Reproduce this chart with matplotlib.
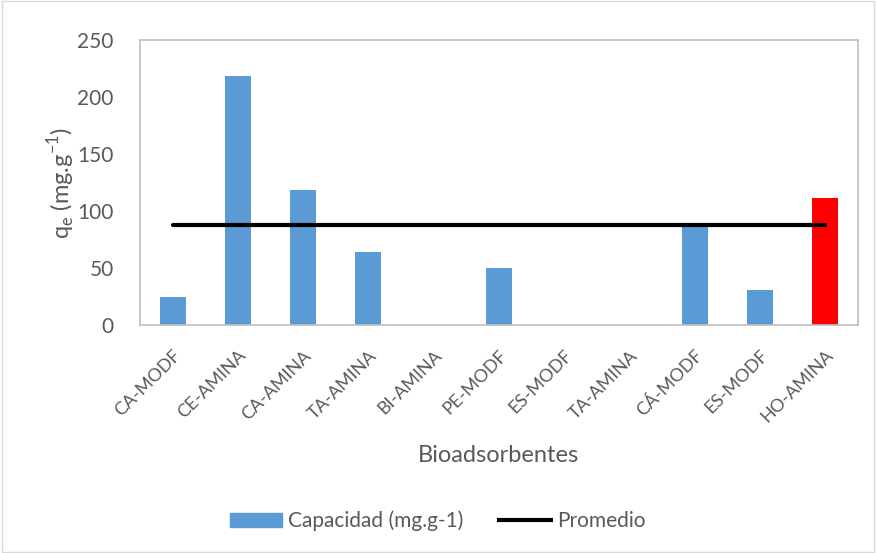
import matplotlib.pyplot as plt
import numpy as np
from matplotlib.patches import Rectangle
from matplotlib.lines import Line2D

plt.rcParams['font.family'] = ['Lato', 'DejaVu Sans']

categorias = ['CA-MODF', 'CE-AMINA', 'CA-AMINA', 'TA-AMINA', 'BI-AMINA', 'PE-MODF',
              'ES-MODF', 'TA-AMINA', 'CÁ-MODF', 'ES-MODF', 'HO-AMINA']
capacidad = [25, 218, 118, 64, 0, 50, 0, 0, 87, 31, 111]
promedio = [88] * len(categorias)
colores = ['#5b9bd5'] * 10 + ['#ff0000']

gris = '#595959'

fig = plt.figure(figsize=(8.76, 5.53), dpi=100)
ax = fig.add_axes([0.16, 0.412, 0.819, 0.516])

x = np.arange(len(categorias))
ax.bar(x, capacidad, width=0.4, color=colores, zorder=2)
ax.plot(x, promedio, color='black', lw=3, solid_capstyle='round', zorder=3)

ax.set_xlim(-0.5, len(categorias) - 0.5)
ax.set_ylim(0, 250)
ax.set_yticks(range(0, 251, 50))
ax.set_xticks(x)
ax.set_xticklabels(categorias, rotation=45, ha='right', va='top', rotation_mode='anchor',
                   fontsize=13, color=gris)
ax.tick_params(axis='y', labelsize=15, labelcolor=gris, length=0, pad=19)
ax.tick_params(axis='x', length=0, pad=16)

for s in ax.spines.values():
    s.set_color('#bfbfbf')
    s.set_linewidth(1.2)

ax.set_xlabel('Bioadsorbentes', fontsize=17, color=gris, labelpad=14)
ax.set_ylabel(r'q$_\mathregular{e}$ (mg.g$^\mathregular{-1}$)', fontsize=17, color=gris)
ax.yaxis.set_label_coords(-0.087, 0.5)

handles = [Rectangle((0, 0), 1, 1, color='#5b9bd5'),
           Line2D([0], [0], color='black', lw=3)]
fig.legend(handles, ['Capacidad (mg.g-1)', 'Promedio'], loc='center',
           bbox_to_anchor=(0.5, 0.058), ncol=2, frameon=False, fontsize=15,
           labelcolor=gris, handlelength=2.5, handletextpad=0.3, columnspacing=1.7)

fig.patches.append(Rectangle((0.002, 0.002), 0.996, 0.996, transform=fig.transFigure,
                             fill=False, edgecolor='#d9d9d9', lw=1))

fig.savefig('out.png', dpi=100)
